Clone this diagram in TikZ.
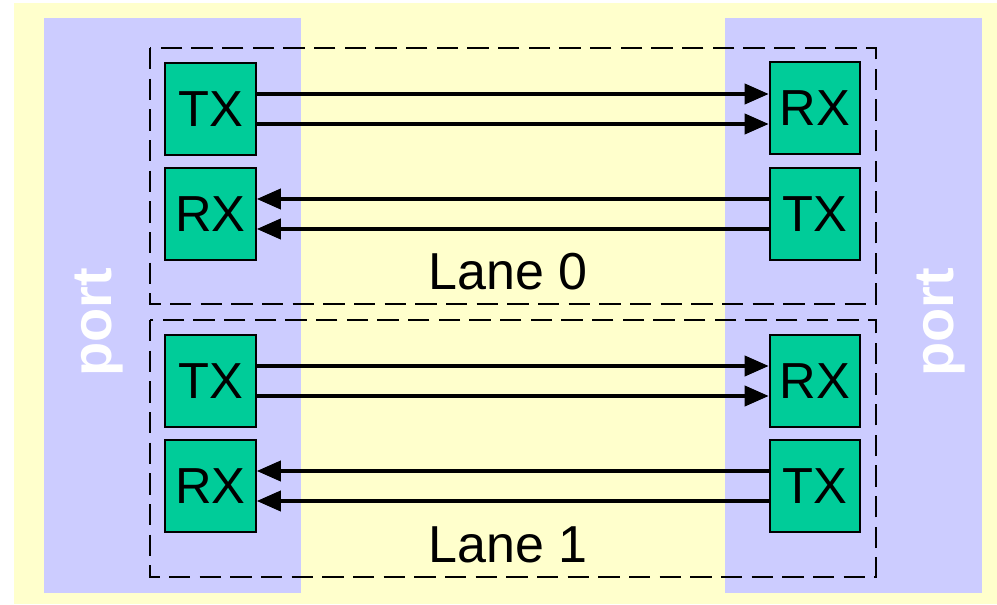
\documentclass[tikz,border=0pt]{standalone}
\usepackage{fontspec}
\setmainfont{Liberation Sans}
\usepackage{tikz}
\usetikzlibrary{arrows.meta,positioning}
\definecolor{bgyellow}{HTML}{FFFFCC}
\definecolor{portblue}{HTML}{CCCCFF}
\definecolor{phygreen}{HTML}{00CC99}

\begin{document}
\begin{tikzpicture}[x=0.75pt, y=-0.75pt,
  >={Triangle[length=18pt, width=15pt]},
  portarea/.style={fill=portblue, draw=none},
  lanebox/.style={draw, line width=2.2pt, dash pattern=on 16pt off 7pt},
  phybox/.style={draw, line width=1.4pt, fill=phygreen, minimum width=68pt,
    minimum height=69pt, inner sep=0pt, font=\fontsize{38}{42}\selectfont},
  lanelabel/.style={font=\fontsize{39}{44}\selectfont},
  portlabel/.style={rotate=90, text=white, font=\bfseries\fontsize{42}{46}\selectfont},
  link/.style={draw, ->, line width=2.8pt}
]
  \useasboundingbox (0,0) rectangle (997,604);
  \fill[bgyellow] (14,3) rectangle (997,604);
  \fill[portarea] (44,18) rectangle (301,593);
  \fill[portarea] (725,18) rectangle (982,593);
  \node[portlabel] (portl) at (99,322) {port};
  \node[portlabel] (portr) at (941,322) {port};

  % lane 0
  \draw[lanebox] (150,48) rectangle (876,304);
  \node[phybox] (txa) at (210.5,109) {TX};
  \node[phybox] (rxa) at (815,108) {RX};
  \node[phybox] (rxb) at (210.5,214) {RX};
  \node[phybox] (txb) at (815,214) {TX};
  \node[lanelabel] (lane0) at (508,272) {Lane 0};

  % lane 1
  \draw[lanebox] (150,320) rectangle (876,577);
  \node[phybox] (txc) at (210.5,381) {TX};
  \node[phybox] (rxc) at (815,381) {RX};
  \node[phybox] (rxd) at (210.5,486) {RX};
  \node[phybox] (txd) at (815,486) {TX};
  \node[lanelabel] (lane1) at (508,545) {Lane 1};

  \path[link] ([yshift=11.25pt]txa.east) -- ([yshift=11.25pt]txa.east -| rxa.west);
  \path[link] ([yshift=-11.25pt]txa.east) -- ([yshift=-11.25pt]txa.east -| rxa.west);
  \path[link] ([yshift=11.25pt]txb.west) -- ([yshift=11.25pt]txb.west -| rxb.east);
  \path[link] ([yshift=-11.25pt]txb.west) -- ([yshift=-11.25pt]txb.west -| rxb.east);
  \path[link] ([yshift=11.25pt]txc.east) -- ([yshift=11.25pt]txc.east -| rxc.west);
  \path[link] ([yshift=-11.25pt]txc.east) -- ([yshift=-11.25pt]txc.east -| rxc.west);
  \path[link] ([yshift=11.25pt]txd.west) -- ([yshift=11.25pt]txd.west -| rxd.east);
  \path[link] ([yshift=-11.25pt]txd.west) -- ([yshift=-11.25pt]txd.west -| rxd.east);
\end{tikzpicture}
\end{document}
